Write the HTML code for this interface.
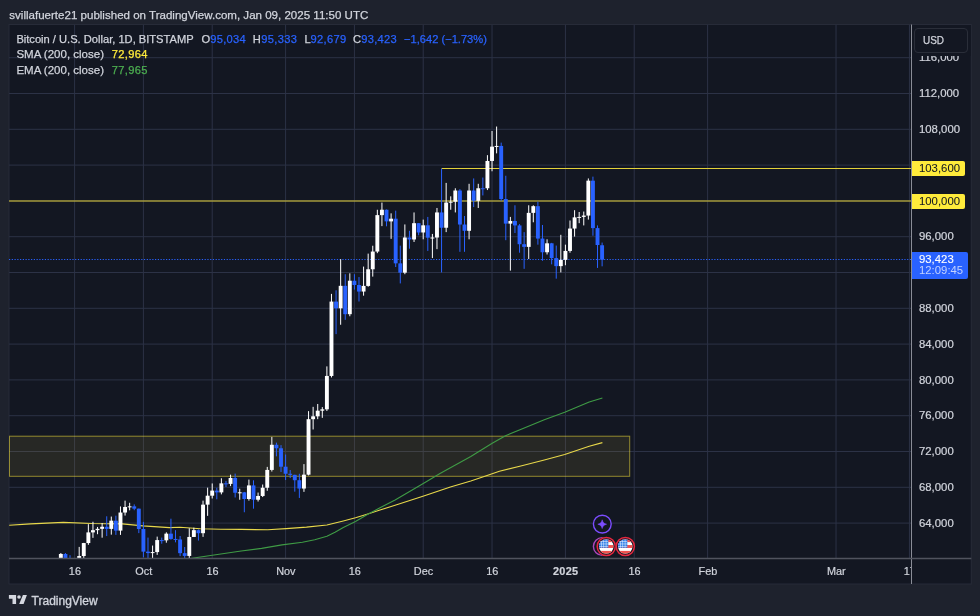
<!DOCTYPE html><html><head><meta charset="utf-8"><title>BTCUSD chart</title><style>
html,body{margin:0;padding:0}
body{width:980px;height:616px;background:#1e222d;position:relative;overflow:hidden;font-family:"Liberation Sans",sans-serif;color:#d1d4dc}
.t{position:absolute;white-space:nowrap;line-height:1;-webkit-text-stroke:0.25px currentColor}
.bl{color:#2962ff}
.pl{position:absolute;left:919.4px;font-size:10.4px;letter-spacing:0;transform:scaleX(1.092);transform-origin:0 50%;color:#d1d4dc;line-height:1;white-space:nowrap;-webkit-text-stroke:0.2px currentColor}
.tl{position:absolute;top:566.3px;font-size:10.9px;color:#d1d4dc;transform:translateX(-50%);line-height:1;white-space:nowrap;-webkit-text-stroke:0.2px currentColor}
.tag{position:absolute;left:912px;width:53.2px;height:14.8px;background:#ffeb3b;border-radius:0 2px 2px 0}
.tag span{position:absolute;left:7.4px;top:3.0px;color:#131722;font-size:10.4px;transform:scaleX(1.092);transform-origin:0 50%;line-height:1;-webkit-text-stroke:0.05px currentColor}

</style></head><body>
<svg width="980" height="616" viewBox="0 0 980 616" style="position:absolute;left:0;top:0">
<rect x="9" y="24.5" width="962.3" height="559.5" fill="#131722" stroke="#272b38" stroke-width="1"/>
<defs><clipPath id="cp"><rect x="9" y="24.5" width="902.5" height="534.0"/></clipPath></defs>
<g clip-path="url(#cp)">
<line x1="74.6" y1="24.5" x2="74.6" y2="558.5" stroke="#2c3246" stroke-width="1"/>
<line x1="143.4" y1="24.5" x2="143.4" y2="558.5" stroke="#2c3246" stroke-width="1"/>
<line x1="212.21" y1="24.5" x2="212.21" y2="558.5" stroke="#2c3246" stroke-width="1"/>
<line x1="285.6" y1="24.5" x2="285.6" y2="558.5" stroke="#2c3246" stroke-width="1"/>
<line x1="354.41" y1="24.5" x2="354.41" y2="558.5" stroke="#2c3246" stroke-width="1"/>
<line x1="423.21" y1="24.5" x2="423.21" y2="558.5" stroke="#2c3246" stroke-width="1"/>
<line x1="492.02" y1="24.5" x2="492.02" y2="558.5" stroke="#2c3246" stroke-width="1"/>
<line x1="565.41" y1="24.5" x2="565.41" y2="558.5" stroke="#2c3246" stroke-width="1"/>
<line x1="634.21" y1="24.5" x2="634.21" y2="558.5" stroke="#2c3246" stroke-width="1"/>
<line x1="707.61" y1="24.5" x2="707.61" y2="558.5" stroke="#2c3246" stroke-width="1"/>
<line x1="836.04" y1="24.5" x2="836.04" y2="558.5" stroke="#2c3246" stroke-width="1"/>
<line x1="909.43" y1="24.5" x2="909.43" y2="558.5" stroke="#2c3246" stroke-width="1"/>
<line x1="9" y1="523.1" x2="911.5" y2="523.1" stroke="#2c3246" stroke-width="1"/>
<line x1="9" y1="487.3" x2="911.5" y2="487.3" stroke="#2c3246" stroke-width="1"/>
<line x1="9" y1="451.5" x2="911.5" y2="451.5" stroke="#2c3246" stroke-width="1"/>
<line x1="9" y1="415.7" x2="911.5" y2="415.7" stroke="#2c3246" stroke-width="1"/>
<line x1="9" y1="379.9" x2="911.5" y2="379.9" stroke="#2c3246" stroke-width="1"/>
<line x1="9" y1="344.1" x2="911.5" y2="344.1" stroke="#2c3246" stroke-width="1"/>
<line x1="9" y1="308.3" x2="911.5" y2="308.3" stroke="#2c3246" stroke-width="1"/>
<line x1="9" y1="272.5" x2="911.5" y2="272.5" stroke="#2c3246" stroke-width="1"/>
<line x1="9" y1="236.7" x2="911.5" y2="236.7" stroke="#2c3246" stroke-width="1"/>
<line x1="9" y1="200.9" x2="911.5" y2="200.9" stroke="#2c3246" stroke-width="1"/>
<line x1="9" y1="165.1" x2="911.5" y2="165.1" stroke="#2c3246" stroke-width="1"/>
<line x1="9" y1="129.3" x2="911.5" y2="129.3" stroke="#2c3246" stroke-width="1"/>
<line x1="9" y1="93.5" x2="911.5" y2="93.5" stroke="#2c3246" stroke-width="1"/>
<line x1="9" y1="57.7" x2="911.5" y2="57.7" stroke="#2c3246" stroke-width="1"/>
<rect x="9.5" y="436.2" width="620.2" height="40.1" fill="rgba(250,225,70,0.088)" stroke="rgba(255,235,59,0.52)" stroke-width="1"/>
<polyline points="9.2,525.3 30.6,523.9 63.3,522.4 91.8,523.5 122.4,523.9 142.9,525.9 169.4,527.6 180.0,527.3 200.4,528.8 220.8,529.2 241.2,529.4 267.8,529.8 286.1,528.6 306.5,527.1 326.9,525.0 343.3,521.0 355.5,517.8 367.8,513.9 380.0,510.0 395.1,505.3 423.7,495.9 440.0,490.4 450.4,487.1 470.8,481.0 487.1,475.5 499.4,471.2 521.8,465.7 544.3,460.0 564.7,454.5 589.2,446.3 602.4,442.6" fill="none" stroke="#e8d84a" stroke-width="1.1" stroke-linejoin="round"/>
<polyline points="188.0,558.9 190.2,558.6 210.6,555.5 241.2,551.0 261.6,548.4 282.0,544.9 302.4,542.2 314.7,539.8 326.9,536.3 335.0,532.2 343.3,527.6 355.5,521.4 367.8,514.3 380.0,507.8 395.1,500.0 423.7,483.3 440.0,473.5 450.4,467.8 470.8,456.5 492.2,443.3 505.5,435.7 521.8,429.0 544.3,419.8 564.7,412.2 589.2,402.0 602.4,398.0" fill="none" stroke="#3f9b45" stroke-width="1.1" stroke-linejoin="round"/>
<line x1="9" y1="201.0" x2="911.5" y2="201.0" stroke="#e2d03a" stroke-width="1.05"/>
<line x1="441.6" y1="168.4" x2="911.5" y2="168.4" stroke="#e2d03a" stroke-width="1.05"/>
<line x1="9" y1="259.5" x2="911.5" y2="259.5" stroke="#2962ff" stroke-width="1.1" stroke-dasharray="1.2 1.555"/>
<rect x="60.34" y="552.98" width="1" height="27.03" fill="#ffffff"/>
<rect x="58.89" y="553.97" width="3.9" height="21.57" fill="#ffffff"/>
<rect x="64.93" y="552.98" width="1" height="10.83" fill="#2962ff"/>
<rect x="63.48" y="553.97" width="3.9" height="4.83" fill="#2962ff"/>
<rect x="69.51" y="555.22" width="1" height="15.21" fill="#2962ff"/>
<rect x="68.06" y="558.80" width="3.9" height="7.79" fill="#2962ff"/>
<rect x="74.10" y="565.96" width="1" height="15.21" fill="#2962ff"/>
<rect x="72.65" y="566.59" width="3.9" height="8.23" fill="#2962ff"/>
<rect x="78.69" y="546.90" width="1" height="33.38" fill="#ffffff"/>
<rect x="77.24" y="556.03" width="3.9" height="18.80" fill="#ffffff"/>
<rect x="83.27" y="542.87" width="1" height="23.27" fill="#ffffff"/>
<rect x="81.82" y="543.05" width="3.9" height="12.98" fill="#ffffff"/>
<rect x="87.86" y="524.16" width="1" height="20.67" fill="#ffffff"/>
<rect x="86.41" y="532.40" width="3.9" height="10.65" fill="#ffffff"/>
<rect x="92.45" y="521.75" width="1" height="16.11" fill="#ffffff"/>
<rect x="91.00" y="530.16" width="3.9" height="2.24" fill="#ffffff"/>
<rect x="97.03" y="526.94" width="1" height="7.25" fill="#ffffff"/>
<rect x="95.58" y="528.82" width="3.9" height="1.34" fill="#ffffff"/>
<rect x="101.62" y="523.00" width="1" height="14.68" fill="#ffffff"/>
<rect x="100.17" y="526.76" width="3.9" height="2.06" fill="#ffffff"/>
<rect x="106.21" y="516.29" width="1" height="19.78" fill="#2962ff"/>
<rect x="104.76" y="526.76" width="3.9" height="2.15" fill="#2962ff"/>
<rect x="110.80" y="516.56" width="1" height="18.08" fill="#ffffff"/>
<rect x="109.35" y="520.67" width="3.9" height="8.23" fill="#ffffff"/>
<rect x="115.38" y="515.66" width="1" height="19.24" fill="#2962ff"/>
<rect x="113.93" y="520.67" width="3.9" height="9.93" fill="#2962ff"/>
<rect x="119.97" y="506.44" width="1" height="28.46" fill="#ffffff"/>
<rect x="118.52" y="512.53" width="3.9" height="18.08" fill="#ffffff"/>
<rect x="124.56" y="500.62" width="1" height="14.95" fill="#ffffff"/>
<rect x="123.11" y="506.98" width="3.9" height="5.55" fill="#ffffff"/>
<rect x="129.14" y="502.77" width="1" height="7.52" fill="#ffffff"/>
<rect x="127.69" y="506.35" width="3.9" height="1.00" fill="#ffffff"/>
<rect x="133.73" y="504.38" width="1" height="5.82" fill="#2962ff"/>
<rect x="132.28" y="506.35" width="3.9" height="2.33" fill="#2962ff"/>
<rect x="138.32" y="508.50" width="1" height="24.61" fill="#2962ff"/>
<rect x="136.87" y="508.68" width="3.9" height="20.32" fill="#2962ff"/>
<rect x="142.90" y="521.84" width="1" height="35.53" fill="#2962ff"/>
<rect x="141.45" y="529.00" width="3.9" height="22.64" fill="#2962ff"/>
<rect x="147.49" y="537.59" width="1" height="22.73" fill="#2962ff"/>
<rect x="146.04" y="551.64" width="3.9" height="1.43" fill="#2962ff"/>
<rect x="152.08" y="545.55" width="1" height="14.77" fill="#ffffff"/>
<rect x="150.63" y="552.09" width="3.9" height="1.00" fill="#ffffff"/>
<rect x="156.67" y="536.60" width="1" height="18.26" fill="#ffffff"/>
<rect x="155.22" y="540.09" width="3.9" height="11.99" fill="#ffffff"/>
<rect x="161.25" y="537.59" width="1" height="6.09" fill="#2962ff"/>
<rect x="159.80" y="540.09" width="3.9" height="1.00" fill="#2962ff"/>
<rect x="165.84" y="532.31" width="1" height="10.38" fill="#ffffff"/>
<rect x="164.39" y="533.65" width="3.9" height="6.71" fill="#ffffff"/>
<rect x="170.43" y="518.70" width="1" height="21.03" fill="#2962ff"/>
<rect x="168.98" y="533.65" width="3.9" height="5.28" fill="#2962ff"/>
<rect x="175.01" y="530.16" width="1" height="12.17" fill="#2962ff"/>
<rect x="173.56" y="538.93" width="3.9" height="1.00" fill="#2962ff"/>
<rect x="179.60" y="535.98" width="1" height="20.14" fill="#2962ff"/>
<rect x="178.15" y="539.47" width="3.9" height="13.69" fill="#2962ff"/>
<rect x="184.19" y="546.99" width="1" height="21.66" fill="#2962ff"/>
<rect x="182.74" y="553.16" width="3.9" height="2.77" fill="#2962ff"/>
<rect x="188.77" y="528.28" width="1" height="30.07" fill="#ffffff"/>
<rect x="187.32" y="536.96" width="3.9" height="18.97" fill="#ffffff"/>
<rect x="193.36" y="527.65" width="1" height="9.31" fill="#ffffff"/>
<rect x="191.91" y="530.16" width="3.9" height="6.80" fill="#ffffff"/>
<rect x="197.95" y="529.44" width="1" height="11.10" fill="#2962ff"/>
<rect x="196.50" y="530.16" width="3.9" height="3.04" fill="#2962ff"/>
<rect x="202.54" y="500.62" width="1" height="36.25" fill="#ffffff"/>
<rect x="201.09" y="504.65" width="3.9" height="28.55" fill="#ffffff"/>
<rect x="207.12" y="487.65" width="1" height="28.19" fill="#ffffff"/>
<rect x="205.67" y="495.70" width="3.9" height="8.95" fill="#ffffff"/>
<rect x="211.71" y="483.44" width="1" height="15.04" fill="#ffffff"/>
<rect x="210.26" y="490.60" width="3.9" height="5.10" fill="#ffffff"/>
<rect x="216.30" y="487.74" width="1" height="11.55" fill="#2962ff"/>
<rect x="214.85" y="490.60" width="3.9" height="1.79" fill="#2962ff"/>
<rect x="220.88" y="478.25" width="1" height="16.11" fill="#ffffff"/>
<rect x="219.43" y="483.35" width="3.9" height="9.04" fill="#ffffff"/>
<rect x="225.47" y="480.94" width="1" height="6.09" fill="#2962ff"/>
<rect x="224.02" y="483.35" width="3.9" height="1.00" fill="#2962ff"/>
<rect x="230.06" y="474.67" width="1" height="11.46" fill="#ffffff"/>
<rect x="228.61" y="477.98" width="3.9" height="5.91" fill="#ffffff"/>
<rect x="234.64" y="473.60" width="1" height="23.90" fill="#2962ff"/>
<rect x="233.19" y="477.98" width="3.9" height="14.77" fill="#2962ff"/>
<rect x="239.23" y="488.72" width="1" height="11.01" fill="#ffffff"/>
<rect x="237.78" y="492.30" width="3.9" height="1.00" fill="#ffffff"/>
<rect x="243.82" y="491.94" width="1" height="20.32" fill="#2962ff"/>
<rect x="242.37" y="492.30" width="3.9" height="6.71" fill="#2962ff"/>
<rect x="248.41" y="479.59" width="1" height="21.03" fill="#ffffff"/>
<rect x="246.96" y="485.41" width="3.9" height="13.60" fill="#ffffff"/>
<rect x="252.99" y="480.31" width="1" height="28.37" fill="#2962ff"/>
<rect x="251.54" y="485.41" width="3.9" height="14.32" fill="#2962ff"/>
<rect x="257.58" y="492.57" width="1" height="8.95" fill="#ffffff"/>
<rect x="256.13" y="495.97" width="3.9" height="3.76" fill="#ffffff"/>
<rect x="262.17" y="484.51" width="1" height="12.53" fill="#ffffff"/>
<rect x="260.72" y="487.74" width="3.9" height="8.23" fill="#ffffff"/>
<rect x="266.75" y="466.88" width="1" height="23.90" fill="#ffffff"/>
<rect x="265.30" y="469.93" width="3.9" height="17.81" fill="#ffffff"/>
<rect x="271.34" y="436.90" width="1" height="34.64" fill="#ffffff"/>
<rect x="269.89" y="444.78" width="3.9" height="25.15" fill="#ffffff"/>
<rect x="275.93" y="442.63" width="1" height="13.69" fill="#2962ff"/>
<rect x="274.48" y="444.78" width="3.9" height="3.49" fill="#2962ff"/>
<rect x="280.51" y="445.13" width="1" height="26.85" fill="#2962ff"/>
<rect x="279.06" y="448.27" width="3.9" height="18.44" fill="#2962ff"/>
<rect x="285.10" y="454.53" width="1" height="25.51" fill="#2962ff"/>
<rect x="283.65" y="466.70" width="3.9" height="7.07" fill="#2962ff"/>
<rect x="289.69" y="470.02" width="1" height="8.06" fill="#2962ff"/>
<rect x="288.24" y="473.77" width="3.9" height="1.07" fill="#2962ff"/>
<rect x="294.28" y="474.67" width="1" height="17.00" fill="#2962ff"/>
<rect x="292.83" y="474.85" width="3.9" height="5.37" fill="#2962ff"/>
<rect x="298.86" y="473.77" width="1" height="24.17" fill="#2962ff"/>
<rect x="297.41" y="480.22" width="3.9" height="8.32" fill="#2962ff"/>
<rect x="303.45" y="464.11" width="1" height="27.75" fill="#ffffff"/>
<rect x="302.00" y="474.67" width="3.9" height="13.87" fill="#ffffff"/>
<rect x="308.04" y="411.12" width="1" height="64.26" fill="#ffffff"/>
<rect x="306.59" y="419.18" width="3.9" height="55.49" fill="#ffffff"/>
<rect x="312.62" y="406.83" width="1" height="22.64" fill="#ffffff"/>
<rect x="311.17" y="416.32" width="3.9" height="2.86" fill="#ffffff"/>
<rect x="317.21" y="403.97" width="1" height="15.21" fill="#ffffff"/>
<rect x="315.76" y="410.68" width="3.9" height="5.64" fill="#ffffff"/>
<rect x="321.80" y="407.10" width="1" height="10.74" fill="#ffffff"/>
<rect x="320.35" y="409.34" width="3.9" height="1.34" fill="#ffffff"/>
<rect x="326.38" y="366.38" width="1" height="44.57" fill="#ffffff"/>
<rect x="324.94" y="375.95" width="3.9" height="33.38" fill="#ffffff"/>
<rect x="330.97" y="293.88" width="1" height="83.59" fill="#ffffff"/>
<rect x="329.52" y="301.58" width="3.9" height="74.37" fill="#ffffff"/>
<rect x="335.56" y="290.30" width="1" height="43.85" fill="#2962ff"/>
<rect x="334.11" y="301.58" width="3.9" height="6.71" fill="#2962ff"/>
<rect x="340.15" y="259.15" width="1" height="65.60" fill="#ffffff"/>
<rect x="338.70" y="285.83" width="3.9" height="22.46" fill="#ffffff"/>
<rect x="344.73" y="274.19" width="1" height="45.65" fill="#2962ff"/>
<rect x="343.28" y="285.83" width="3.9" height="28.37" fill="#2962ff"/>
<rect x="349.32" y="273.30" width="1" height="42.96" fill="#ffffff"/>
<rect x="347.87" y="280.72" width="3.9" height="33.47" fill="#ffffff"/>
<rect x="353.91" y="274.19" width="1" height="15.39" fill="#2962ff"/>
<rect x="352.46" y="280.72" width="3.9" height="4.30" fill="#2962ff"/>
<rect x="358.49" y="277.05" width="1" height="24.43" fill="#2962ff"/>
<rect x="357.04" y="285.02" width="3.9" height="6.53" fill="#2962ff"/>
<rect x="363.08" y="266.58" width="1" height="29.09" fill="#ffffff"/>
<rect x="361.63" y="285.91" width="3.9" height="5.64" fill="#ffffff"/>
<rect x="367.67" y="253.61" width="1" height="33.12" fill="#ffffff"/>
<rect x="366.22" y="269.27" width="3.9" height="16.65" fill="#ffffff"/>
<rect x="372.25" y="245.73" width="1" height="30.88" fill="#ffffff"/>
<rect x="370.81" y="251.55" width="3.9" height="17.72" fill="#ffffff"/>
<rect x="376.84" y="209.75" width="1" height="43.41" fill="#ffffff"/>
<rect x="375.39" y="215.12" width="3.9" height="36.43" fill="#ffffff"/>
<rect x="381.43" y="202.59" width="1" height="23.54" fill="#ffffff"/>
<rect x="379.98" y="209.75" width="3.9" height="5.37" fill="#ffffff"/>
<rect x="386.02" y="209.48" width="1" height="16.83" fill="#2962ff"/>
<rect x="384.57" y="209.75" width="3.9" height="11.63" fill="#2962ff"/>
<rect x="390.60" y="213.33" width="1" height="25.51" fill="#ffffff"/>
<rect x="389.15" y="218.70" width="3.9" height="2.69" fill="#ffffff"/>
<rect x="395.19" y="210.65" width="1" height="56.38" fill="#2962ff"/>
<rect x="393.74" y="218.70" width="3.9" height="44.66" fill="#2962ff"/>
<rect x="399.78" y="245.64" width="1" height="37.77" fill="#2962ff"/>
<rect x="398.33" y="263.36" width="3.9" height="9.31" fill="#2962ff"/>
<rect x="404.36" y="224.43" width="1" height="49.76" fill="#ffffff"/>
<rect x="402.91" y="237.50" width="3.9" height="35.17" fill="#ffffff"/>
<rect x="408.95" y="230.78" width="1" height="17.90" fill="#2962ff"/>
<rect x="407.50" y="237.50" width="3.9" height="1.97" fill="#2962ff"/>
<rect x="413.54" y="212.44" width="1" height="29.54" fill="#ffffff"/>
<rect x="412.09" y="223.18" width="3.9" height="16.29" fill="#ffffff"/>
<rect x="418.12" y="223.18" width="1" height="12.08" fill="#2962ff"/>
<rect x="416.68" y="223.18" width="3.9" height="9.31" fill="#2962ff"/>
<rect x="422.71" y="219.60" width="1" height="19.69" fill="#ffffff"/>
<rect x="421.26" y="225.32" width="3.9" height="7.16" fill="#ffffff"/>
<rect x="427.30" y="216.91" width="1" height="34.01" fill="#2962ff"/>
<rect x="425.85" y="225.32" width="3.9" height="12.35" fill="#2962ff"/>
<rect x="431.89" y="233.92" width="1" height="24.16" fill="#ffffff"/>
<rect x="430.44" y="237.50" width="3.9" height="1.00" fill="#ffffff"/>
<rect x="436.47" y="207.96" width="1" height="41.17" fill="#ffffff"/>
<rect x="435.02" y="212.44" width="3.9" height="25.06" fill="#ffffff"/>
<rect x="441.06" y="168.58" width="1" height="103.82" fill="#2962ff"/>
<rect x="439.61" y="212.44" width="3.9" height="15.30" fill="#2962ff"/>
<rect x="445.65" y="182.90" width="1" height="49.22" fill="#ffffff"/>
<rect x="444.20" y="202.59" width="3.9" height="25.15" fill="#ffffff"/>
<rect x="450.23" y="196.32" width="1" height="13.43" fill="#ffffff"/>
<rect x="448.78" y="201.69" width="3.9" height="1.00" fill="#ffffff"/>
<rect x="454.82" y="188.27" width="1" height="24.16" fill="#ffffff"/>
<rect x="453.37" y="190.51" width="3.9" height="11.19" fill="#ffffff"/>
<rect x="459.41" y="189.17" width="1" height="62.65" fill="#2962ff"/>
<rect x="457.96" y="190.51" width="3.9" height="34.01" fill="#2962ff"/>
<rect x="464.00" y="216.01" width="1" height="35.80" fill="#2962ff"/>
<rect x="462.55" y="224.52" width="3.9" height="6.26" fill="#2962ff"/>
<rect x="468.58" y="183.80" width="1" height="55.49" fill="#ffffff"/>
<rect x="467.13" y="190.51" width="3.9" height="40.28" fill="#ffffff"/>
<rect x="473.17" y="178.43" width="1" height="28.64" fill="#2962ff"/>
<rect x="471.72" y="190.51" width="3.9" height="10.29" fill="#2962ff"/>
<rect x="477.76" y="183.80" width="1" height="24.17" fill="#ffffff"/>
<rect x="476.31" y="188.27" width="3.9" height="12.53" fill="#ffffff"/>
<rect x="482.34" y="177.53" width="1" height="17.90" fill="#2962ff"/>
<rect x="480.89" y="188.27" width="3.9" height="1.00" fill="#2962ff"/>
<rect x="486.93" y="155.16" width="1" height="34.90" fill="#ffffff"/>
<rect x="485.48" y="160.97" width="3.9" height="27.30" fill="#ffffff"/>
<rect x="491.52" y="130.99" width="1" height="40.28" fill="#ffffff"/>
<rect x="490.07" y="146.65" width="3.9" height="14.32" fill="#ffffff"/>
<rect x="496.10" y="126.52" width="1" height="26.85" fill="#ffffff"/>
<rect x="494.65" y="145.94" width="3.9" height="1.00" fill="#ffffff"/>
<rect x="500.69" y="142.62" width="1" height="58.18" fill="#2962ff"/>
<rect x="499.24" y="145.94" width="3.9" height="53.07" fill="#2962ff"/>
<rect x="505.28" y="175.74" width="1" height="64.44" fill="#2962ff"/>
<rect x="503.83" y="199.01" width="3.9" height="24.61" fill="#2962ff"/>
<rect x="509.87" y="216.91" width="1" height="53.70" fill="#ffffff"/>
<rect x="508.42" y="220.94" width="3.9" height="2.69" fill="#ffffff"/>
<rect x="514.45" y="205.28" width="1" height="27.75" fill="#2962ff"/>
<rect x="513.00" y="220.94" width="3.9" height="4.48" fill="#2962ff"/>
<rect x="519.04" y="224.07" width="1" height="28.64" fill="#2962ff"/>
<rect x="517.59" y="225.41" width="3.9" height="18.80" fill="#2962ff"/>
<rect x="523.63" y="232.12" width="1" height="36.70" fill="#2962ff"/>
<rect x="522.18" y="244.21" width="3.9" height="2.68" fill="#2962ff"/>
<rect x="528.21" y="205.28" width="1" height="53.70" fill="#ffffff"/>
<rect x="526.76" y="212.88" width="3.9" height="34.01" fill="#ffffff"/>
<rect x="532.80" y="205.28" width="1" height="17.00" fill="#ffffff"/>
<rect x="531.35" y="206.17" width="3.9" height="6.71" fill="#ffffff"/>
<rect x="537.39" y="201.69" width="1" height="42.96" fill="#2962ff"/>
<rect x="535.94" y="206.17" width="3.9" height="32.40" fill="#2962ff"/>
<rect x="541.97" y="224.97" width="1" height="35.80" fill="#2962ff"/>
<rect x="540.52" y="238.57" width="3.9" height="13.69" fill="#2962ff"/>
<rect x="546.56" y="239.29" width="1" height="15.21" fill="#ffffff"/>
<rect x="545.11" y="243.31" width="3.9" height="8.95" fill="#ffffff"/>
<rect x="551.15" y="242.87" width="1" height="21.48" fill="#2962ff"/>
<rect x="549.70" y="243.31" width="3.9" height="14.77" fill="#2962ff"/>
<rect x="555.74" y="245.55" width="1" height="33.12" fill="#2962ff"/>
<rect x="554.28" y="258.08" width="3.9" height="8.06" fill="#2962ff"/>
<rect x="560.32" y="234.81" width="1" height="37.59" fill="#ffffff"/>
<rect x="558.87" y="259.87" width="3.9" height="6.26" fill="#ffffff"/>
<rect x="564.91" y="244.66" width="1" height="20.58" fill="#ffffff"/>
<rect x="563.46" y="250.92" width="3.9" height="8.95" fill="#ffffff"/>
<rect x="569.50" y="220.49" width="1" height="32.22" fill="#ffffff"/>
<rect x="568.05" y="228.55" width="3.9" height="22.38" fill="#ffffff"/>
<rect x="574.08" y="210.20" width="1" height="26.40" fill="#ffffff"/>
<rect x="572.63" y="217.36" width="3.9" height="11.19" fill="#ffffff"/>
<rect x="578.67" y="211.99" width="1" height="11.19" fill="#ffffff"/>
<rect x="577.22" y="216.91" width="3.9" height="1.00" fill="#ffffff"/>
<rect x="583.26" y="211.54" width="1" height="13.87" fill="#ffffff"/>
<rect x="581.81" y="215.57" width="3.9" height="1.34" fill="#ffffff"/>
<rect x="587.84" y="178.43" width="1" height="41.17" fill="#ffffff"/>
<rect x="586.39" y="180.66" width="3.9" height="34.90" fill="#ffffff"/>
<rect x="592.43" y="176.63" width="1" height="59.07" fill="#2962ff"/>
<rect x="590.98" y="180.66" width="3.9" height="47.44" fill="#2962ff"/>
<rect x="597.02" y="225.41" width="1" height="42.51" fill="#2962ff"/>
<rect x="595.57" y="228.10" width="3.9" height="16.92" fill="#2962ff"/>
<rect x="601.61" y="242.57" width="1" height="23.75" fill="#2962ff"/>
<rect x="600.15" y="245.25" width="3.9" height="14.42" fill="#2962ff"/>
</g>
<circle cx="602.3" cy="524.1" r="8.9" fill="#131722" stroke="#7c4dff" stroke-width="1.4"/>
<path d="M602.2 519.8 C603.0 522.6 603.8 523.4 606.6 524.2 C603.8 525.0 603.0 525.8 602.2 528.6 C601.4 525.8 600.6 525.0 597.8 524.2 C600.6 523.4 601.4 522.6 602.2 519.8Z" fill="#7c4dff" stroke="#7c4dff" stroke-width="0.5" stroke-linejoin="round"/>
<circle cx="602.3" cy="546.5" r="8.9" fill="#131722" stroke="#ab47bc" stroke-width="1.4"/>
<circle cx="606.3" cy="546.5" r="9.8" fill="#131722"/>
<clipPath id="f1"><circle cx="606.3" cy="546.5" r="7.3"/></clipPath>
<g clip-path="url(#f1)">
<rect x="599.0" y="539.2" width="14.6" height="14.6" fill="#ffffff"/>
<rect x="599.0" y="539.20" width="14.6" height="2.92" fill="#f0524f"/>
<rect x="599.0" y="545.04" width="14.6" height="2.92" fill="#f0524f"/>
<rect x="599.0" y="550.88" width="14.6" height="2.92" fill="#f0524f"/>
<rect x="599.0" y="539.2" width="9.30" height="8.56" fill="#2f7fe8"/>
<rect x="601.20" y="539.2" width="0.55" height="8.56" fill="#ffffff" fill-opacity="0.85"/>
<rect x="603.50" y="539.2" width="0.55" height="8.56" fill="#ffffff" fill-opacity="0.85"/>
<rect x="605.80" y="539.2" width="0.55" height="8.56" fill="#ffffff" fill-opacity="0.85"/>
<rect x="599.0" y="541.40" width="9.30" height="0.55" fill="#ffffff" fill-opacity="0.85"/>
<rect x="599.0" y="543.70" width="9.30" height="0.55" fill="#ffffff" fill-opacity="0.85"/>
<rect x="599.0" y="546.00" width="9.30" height="0.55" fill="#ffffff" fill-opacity="0.85"/>
</g>
<circle cx="606.3" cy="546.5" r="9.1" fill="none" stroke="#e8273f" stroke-width="1.5"/>
<circle cx="625.3" cy="546.5" r="9.8" fill="#131722"/>
<clipPath id="f2"><circle cx="625.3" cy="546.5" r="7.3"/></clipPath>
<g clip-path="url(#f2)">
<rect x="618.0" y="539.2" width="14.6" height="14.6" fill="#ffffff"/>
<rect x="618.0" y="539.20" width="14.6" height="2.92" fill="#f0524f"/>
<rect x="618.0" y="545.04" width="14.6" height="2.92" fill="#f0524f"/>
<rect x="618.0" y="550.88" width="14.6" height="2.92" fill="#f0524f"/>
<rect x="618.0" y="539.2" width="9.30" height="8.56" fill="#2f7fe8"/>
<rect x="620.20" y="539.2" width="0.55" height="8.56" fill="#ffffff" fill-opacity="0.85"/>
<rect x="622.50" y="539.2" width="0.55" height="8.56" fill="#ffffff" fill-opacity="0.85"/>
<rect x="624.80" y="539.2" width="0.55" height="8.56" fill="#ffffff" fill-opacity="0.85"/>
<rect x="618.0" y="541.40" width="9.30" height="0.55" fill="#ffffff" fill-opacity="0.85"/>
<rect x="618.0" y="543.70" width="9.30" height="0.55" fill="#ffffff" fill-opacity="0.85"/>
<rect x="618.0" y="546.00" width="9.30" height="0.55" fill="#ffffff" fill-opacity="0.85"/>
</g>
<circle cx="625.3" cy="546.5" r="9.1" fill="none" stroke="#e8273f" stroke-width="1.5"/>
<line x1="911.5" y1="24.5" x2="911.5" y2="584" stroke="#8a8d97" stroke-width="1"/>
<line x1="9" y1="558.5" x2="971.3" y2="558.5" stroke="#50535e" stroke-width="1.5"/>
</svg>
<div class="t" style="left:9.3px;top:9.5px;font-size:11.56px;color:#d1d4dc;">svillafuerte21 published on TradingView.com, Jan 09, 2025 11:50 UTC</div>
<div class="t" style="left:16.4px;top:33.6px;font-size:11.14px;color:#d1d4dc;">Bitcoin / U.S. Dollar, 1D, BITSTAMP</div>
<div class="t" style="left:201.5px;top:33.6px;font-size:11.14px;color:#d1d4dc;">O</div>
<div class="t" style="left:210.2px;top:33.6px;font-size:11.14px;color:#2962ff;letter-spacing:0.3px">95,034</div>
<div class="t" style="left:252.8px;top:33.6px;font-size:11.14px;color:#d1d4dc;">H</div>
<div class="t" style="left:261.3px;top:33.6px;font-size:11.14px;color:#2962ff;letter-spacing:0.3px">95,333</div>
<div class="t" style="left:304.6px;top:33.6px;font-size:11.14px;color:#d1d4dc;">L</div>
<div class="t" style="left:310.6px;top:33.6px;font-size:11.14px;color:#2962ff;letter-spacing:0.3px">92,679</div>
<div class="t" style="left:353.0px;top:33.6px;font-size:11.14px;color:#d1d4dc;">C</div>
<div class="t" style="left:361.2px;top:33.6px;font-size:11.14px;color:#2962ff;letter-spacing:0.3px">93,423</div>
<div class="t" style="left:404.0px;top:33.6px;font-size:11.14px;color:#2962ff;">−1,642 (−1.73%)</div>
<div class="t" style="left:16.4px;top:49.2px;font-size:11.5px;color:#d1d4dc;">SMA (200, close)</div>
<div class="t" style="left:111.8px;top:49.2px;font-size:11.14px;color:#ffeb3b;letter-spacing:0.3px">72,964</div>
<div class="t" style="left:16.4px;top:64.6px;font-size:11.5px;color:#d1d4dc;">EMA (200, close)</div>
<div class="t" style="left:111.8px;top:64.6px;font-size:11.14px;color:#4caf50;letter-spacing:0.3px">77,965</div>
<div class="pl" style="top:518.7px">64,000</div>
<div class="pl" style="top:482.9px">68,000</div>
<div class="pl" style="top:447.1px">72,000</div>
<div class="pl" style="top:411.3px">76,000</div>
<div class="pl" style="top:375.5px">80,000</div>
<div class="pl" style="top:339.7px">84,000</div>
<div class="pl" style="top:303.9px">88,000</div>
<div class="pl" style="top:268.1px">92,000</div>
<div class="pl" style="top:232.3px">96,000</div>
<div class="pl" style="top:196.5px">100,000</div>
<div class="pl" style="top:160.7px">104,000</div>
<div class="pl" style="top:124.9px">108,000</div>
<div class="pl" style="top:89.1px">112,000</div>
<div class="pl" style="top:53.3px">116,000</div>
<div style="position:absolute;left:912px;top:25px;width:59px;height:30.7px;background:#131722"></div>
<div style="position:absolute;left:914.2px;top:28.2px;width:52px;height:22.6px;border:1px solid #2a2e39;border-radius:4px;background:#131722"></div>
<div class="t" style="left:922.9px;top:34.5px;font-size:10.6px;color:#d1d4dc;transform:scaleX(0.94);transform-origin:0 50%;-webkit-text-stroke:0.25px currentColor">USD</div>
<div class="tag" style="top:160.9px"><span>103,600</span></div>
<div class="tag" style="top:194.0px"><span>100,000</span></div>
<div style="position:absolute;left:912px;top:252.3px;width:56.2px;height:26.6px;background:#2962ff;border-radius:0 2px 2px 0"></div>
<div class="t" style="left:919.2px;top:254.5px;font-size:10.4px;color:#ffffff;transform:scaleX(1.092);transform-origin:0 50%;-webkit-text-stroke:0.1px #fff">93,423</div>
<div class="t" style="left:919.2px;top:266.1px;font-size:10.4px;color:#c3d2ff;transform:scaleX(1.092);transform-origin:0 50%;-webkit-text-stroke:0">12:09:45</div>
<div class="tl" style="left:74.9px;">16</div>
<div class="tl" style="left:143.7px;">Oct</div>
<div class="tl" style="left:212.5px;">16</div>
<div class="tl" style="left:285.9px;">Nov</div>
<div class="tl" style="left:354.7px;">16</div>
<div class="tl" style="left:423.5px;">Dec</div>
<div class="tl" style="left:492.3px;">16</div>
<div class="tl" style="left:565.7px;font-weight:bold;letter-spacing:0.3px;">2025</div>
<div class="tl" style="left:634.5px;">16</div>
<div class="tl" style="left:707.9px;">Feb</div>
<div class="tl" style="left:836.3px;">Mar</div>
<div style="position:absolute;left:880px;top:560px;width:31px;height:22px;overflow:hidden"><div class="tl" style="left:29.7px;top:6.3px">17</div></div>
<svg style="position:absolute;left:0;top:590px" width="40" height="20" viewBox="0 590 40 20"><path fill="#d5d8e0" d="M8.9 594.9H16.1V604H12.5V598.8H8.9ZM22.9 594.9H26.9L23.6 604H19.2Z"/><circle cx="19" cy="597" r="1.8" fill="#d5d8e0"/></svg>
<div class="t" style="left:31.6px;top:594.9px;font-size:12.0px;color:#d1d4dc;-webkit-text-stroke:0.35px currentColor">TradingView</div>
</body></html>
